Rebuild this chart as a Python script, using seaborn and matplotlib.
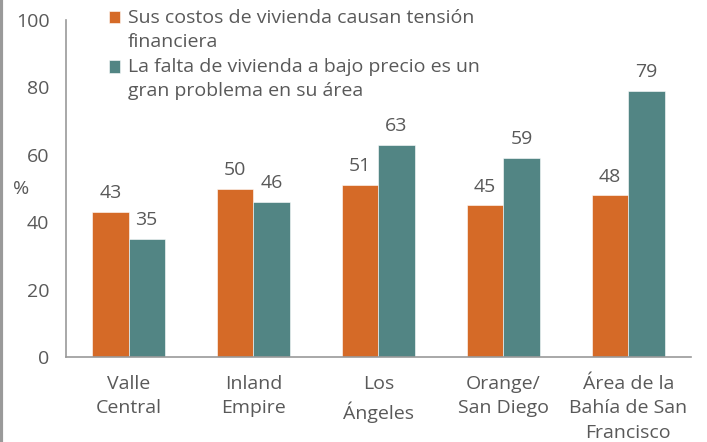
import numpy as np
import pandas as pd
import seaborn as sns
import matplotlib.pyplot as plt
from matplotlib.lines import Line2D
from matplotlib.patches import Rectangle
from matplotlib.legend_handler import HandlerPatch

# datos
regiones = ["Valle\nCentral", "Inland\nEmpire", "Los\nÁngeles", "Orange/\nSan Diego",
            "Área de la\nBahía de San\nFrancisco"]
tension = [43, 50, 51, 45, 48]
falta = [35, 46, 63, 59, 79]
serie1 = "Sus costos de vivienda causan tensión\nfinanciera"
serie2 = "La falta de vivienda a bajo precio es un\ngran problema en su área"

df = pd.DataFrame({
    "region": regiones * 2,
    "valor": tension + falta,
    "serie": [serie1] * 5 + [serie2] * 5,
})

sns.set_style("white")
plt.rcParams["font.family"] = ["Open Sans", "DejaVu Sans"]
gris = "#595959"
eje = "#9a9a9a"
fs = 14

fig = plt.figure(figsize=(7.07, 4.42), dpi=100)
ax = fig.add_axes([0.0934, 0.192, 0.8836, 0.763])

sns.barplot(data=df, x="region", y="valor", hue="serie", palette=["#D56A27", "#528584"],
            width=0.58, saturation=1, ax=ax, edgecolor="white", linewidth=0.4)

for cont in ax.containers:
    ax.bar_label(cont, padding=7, fontsize=fs, color=gris)

ax.set_ylim(0, 100)
ax.set_xlim(-0.5, 4.5)
ax.set_yticks(range(0, 101, 20))
ax.set_xticks(range(len(regiones)), regiones, linespacing=1.45)
ax.set_xlabel("")
ax.set_ylabel("%", rotation=0, fontsize=fs, color=gris, va="center")
ax.yaxis.set_label_coords(-0.072, 0.5)
ax.set_xticks(np.arange(-0.5, 4.6, 1.0), minor=True)
ax.tick_params(axis="x", which="major", length=0, labelsize=fs, labelcolor=gris, pad=13)
ax.tick_params(axis="x", which="minor", length=6, color=eje, width=1.2, direction="out")
ax.tick_params(axis="y", length=6, color=eje, width=1.2, labelsize=fs, labelcolor=gris,
               direction="out", pad=6)
for s in ["top", "right"]:
    ax.spines[s].set_visible(False)
for s in ["left", "bottom"]:
    ax.spines[s].set_color(eje)
    ax.spines[s].set_linewidth(1.2)


# cuadrado de la leyenda alineado con la primera línea del texto
def cuadro_arriba(legend, orig_handle, xdescent, ydescent, width, height, fontsize):
    return Rectangle((-xdescent, -ydescent + 0.66 * fontsize), width, height)


leg = ax.legend(loc="upper left", bbox_to_anchor=(0.04, 1.085), frameon=False, fontsize=fs,
                handlelength=0.6, handleheight=0.6, handletextpad=0.4, labelspacing=0.4,
                labelcolor=gris,
                handler_map={plt.Rectangle: HandlerPatch(patch_func=cuadro_arriba)})
for t in leg.get_texts():
    t.set_linespacing(1.42)

fig.add_artist(Line2D([0.002, 0.002], [0, 1], transform=fig.transFigure, color=eje, linewidth=3))

fig.savefig("out.png", dpi=100)
